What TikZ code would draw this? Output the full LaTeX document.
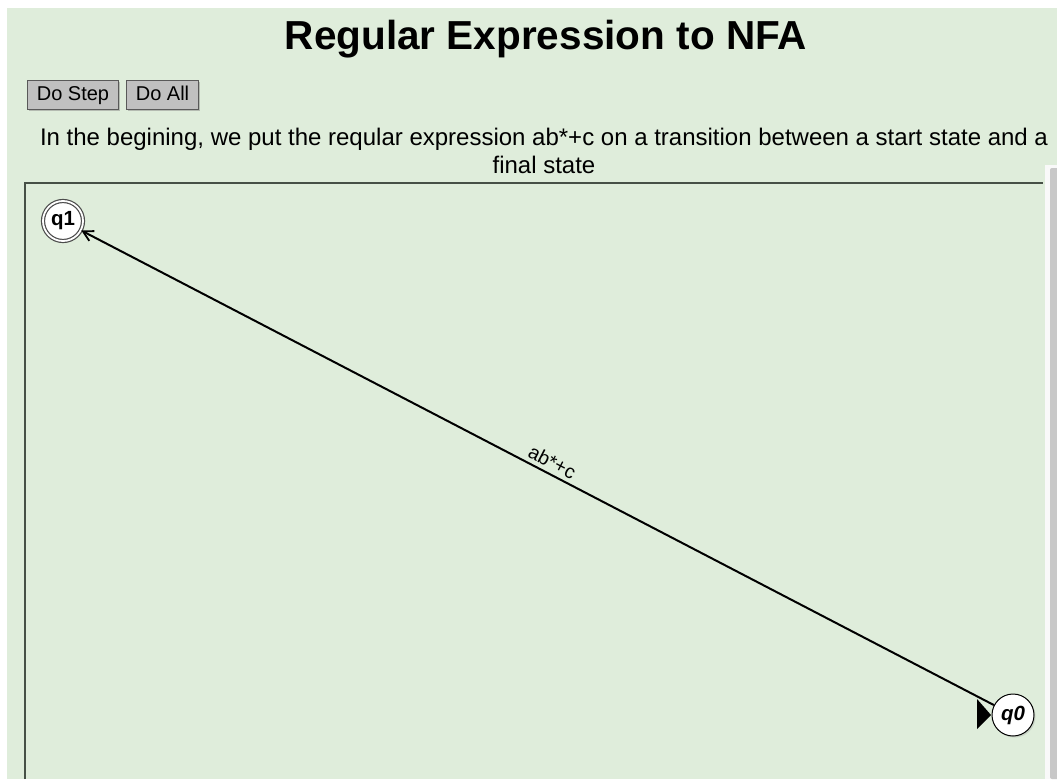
\documentclass[tikz,border=0pt]{standalone}
\usepackage{fontspec}
\setmainfont{Liberation Sans}
\usetikzlibrary{arrows.meta,shadows}
\definecolor{pagegreen}{RGB}{223,237,219}
\definecolor{btngray}{RGB}{192,192,192}
\definecolor{framegray}{RGB}{70,80,70}
\definecolor{scrollgray}{RGB}{200,200,200}
\tikzset{
  btn/.style={draw=gray!70!black, line width=1pt, fill=btngray, inner sep=0pt, minimum height=29pt, text height=14pt, text depth=4pt, font=\fontsize{20}{24}\selectfont, anchor=west},
  statebox/.style={circle, draw=black, line width=1pt, fill=white, minimum size=42pt, inner sep=0pt, font=\fontsize{20.5}{22}\selectfont\bfseries},
  finalbox/.style={statebox, draw=gray!60!black, double=white, double distance=1.8pt, line width=1.2pt, minimum size=40pt},
  edgeline/.style={line width=2pt, -{Straight Barb[length=10pt,width=11pt,line width=1.8pt]}},
}
\begin{document}
\begin{tikzpicture}[x=1pt,y=-1pt]
\useasboundingbox (0,0) rectangle (1057,779);
\fill[white] (0,0) rectangle (1057,779);
\fill[pagegreen] (7,8) rectangle (1057,779);
% title
\node[font=\fontsize{40.5}{46}\selectfont\bfseries] (title) at (546,39) {Regular Expression to NFA};
% buttons
\node[btn, minimum width=91pt, drop shadow={shadow xshift=1.2pt,shadow yshift=-1.2pt,opacity=0.45}] (step) at (27,95) {Do Step};
\node[btn, minimum width=72pt, drop shadow={shadow xshift=1.2pt,shadow yshift=-1.2pt,opacity=0.45}] (all) at (126,95) {Do All};
% description
\node[font=\fontsize{24}{28}\selectfont, align=center, inner sep=0pt] (desc) at (544,151) {In the begining, we put the reqular expression ab*+c on a transition between a start state and a\\final state};
% canvas frame
\draw[framegray, line width=2pt] (25,779) -- (25,183) -- (1043,183);
% scrollbar
\fill[white!95!gray] (1045,165) rectangle (1057,779);
\fill[scrollgray, rounded corners=2pt] (1050,168) rectangle (1060,779);
% states
\node[finalbox] (q1) at (63,221) {q1};
\node[statebox, font=\fontsize{20.5}{22}\selectfont\bfseries\itshape, drop shadow={shadow xshift=1.5pt,shadow yshift=-1.5pt,opacity=0.25}] (q0) at (1013,715) {q0};
% start marker
\coordinate (tip) at (991,715);
\fill[black] (tip) -- (977,699) -- (977,729) -- cycle;
% transition
\draw[edgeline] (q0) -- node[sloped, above, font=\fontsize{19.5}{22}\selectfont, inner sep=4pt, pos=0.49] (lbl) {ab*+c} (q1);
\end{tikzpicture}
\end{document}
